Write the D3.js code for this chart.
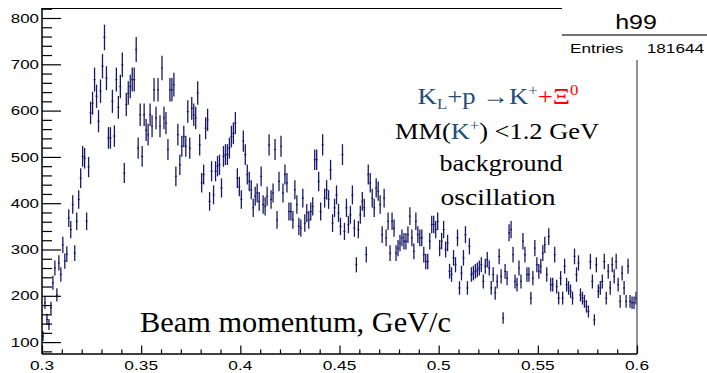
<!DOCTYPE html>
<html>
<head>
<meta charset="utf-8">
<script src="https://cdn.jsdelivr.net/npm/d3@7/dist/d3.min.js"></script>
<style>
  body { margin: 0; background: #fff; }
  svg { display: block; }
</style>
</head>
<body>
<svg id="chart" width="707" height="373"></svg>
<script>
// Histogram h99: beam momentum, 300 bins from 0.3 to 0.6 GeV/c
const histName = "h99";
const entries = "181644";
const binLow = 0.3;
const binHigh = 0.6;
const binWidth = 0.001;

const counts = [
  113,185,149,138,174,228,260,202,271,246,310,275,290,368,343,397,292,361,408,454,
  501,497,361,478,595,616,667,631,577,642,696,758,670,541,541,620,545,667,607,652,
  699,465,613,638,652,667,667,732,519,
  591,501,591,558,548,591,566,645,584,645,566,692,584,573,516,645,645,656,458,548,
  483,523,544,523,598,519,605,591,584,638,526,444,462,562,580,404,469,418,469,480,
  483,433,501,505,505,519,544,551,573,
  454,436,408,534,505,462,447,429,390,415,422,404,458,397,393,415,526,408,422,516,
  364,447,523,422,462,444,382,382,364,429,397,350,346,411,357,379,364,382,393,494,
  494,447,382,526,411,429,408,472,357,390,
  418,379,350,505,339,390,354,375,418,346,267,343,375,404,390,289,462,444,411,390,
  433,426,397,332,411,325,361,292,361,346,292,303,314,325,318,318,332,372,325,296,
  361,332,325,325,289,274,274,318,354,
  354,343,361,303,318,343,300,314,253,246,282,267,325,217,249,282,332,217,307,246,
  249,253,256,260,267,231,264,278,260,217,246,206,231,285,242,152,253,238,336,343,
  289,231,224,260,231,318,289,246,246,195,
  238,303,267,253,264,292,310,246,328,224,224,289,220,195,238,195,264,224,217,210,
  195,285,246,271,202,195,188,177,166,274,231,148,267,210,217,231,274,195,253,217,
  267,242,274,224,188,249,217,188,264,188,185,185,195
];

const xTickValues = [0.3, 0.35, 0.4, 0.45, 0.5, 0.55, 0.6];
const xTickLabels = ["0.3", "0.35", "0.4", "0.45", "0.5", "0.55", "0.6"];
const yTickValues = [100, 200, 300, 400, 500, 600, 700, 800];
const yTickLabels = ["100", "200", "300", "400", "500", "600", "700", "800"];
const yRange = [74.3, 821.6];

const xTitle = "Beam momentum, GeV/c";
const noteLines = ["MM(K\u207A) <1.2 GeV", "background", "oscillation"];

const svg = d3.select("#chart");
const frame = { left: 42, right: 637, top: 8, bottom: 354 };

const x = d3.scaleLinear().domain([binLow, binHigh]).range([frame.left, frame.right]);
const y = d3.scaleLinear().domain(yRange).range([frame.bottom, frame.top]);

const bins = counts.map((c, i) => ({
  lo: binLow + i * binWidth,
  hi: binLow + (i + 1) * binWidth,
  c: c,
  err: Math.sqrt(c)
}));

// Error bars: vertical sqrt(N) bar plus horizontal bin-width bar
const markColor = "#18186a";
const gData = svg.append("g");
gData.selectAll("line.v").data(bins).join("line")
  .attr("x1", d => x((d.lo + d.hi) / 2)).attr("x2", d => x((d.lo + d.hi) / 2))
  .attr("y1", d => y(Math.max(d.c - d.err, yRange[0])))
  .attr("y2", d => y(Math.min(d.c + d.err, yRange[1])))
  .attr("stroke", markColor).attr("stroke-width", 1.3);
gData.selectAll("line.h").data(bins).join("line")
  .attr("x1", d => x(d.lo)).attr("x2", d => x(d.hi))
  .attr("y1", d => y(d.c)).attr("y2", d => y(d.c))
  .attr("stroke", markColor).attr("stroke-width", 1.2);

// Frame lines
svg.append("line").attr("x1", frame.left).attr("x2", 562).attr("y1", frame.top + 0.5).attr("y2", frame.top + 0.5)
  .attr("stroke", "#000").attr("stroke-width", 1.2);
svg.append("line").attr("x1", frame.right).attr("x2", frame.right).attr("y1", 60).attr("y2", frame.bottom)
  .attr("stroke", "#555").attr("stroke-width", 1.3);

// Axes with ROOT-style inward ticks
const yAxis = d3.axisRight(y).tickValues(yTickValues).tickSize(19).tickFormat("");
const yMinor = d3.axisRight(y).tickValues(d3.range(80, 821, 20).filter(v => v % 100 !== 0)).tickSize(10).tickFormat("");
const gy = svg.append("g").attr("transform", `translate(${frame.left},0)`).call(yAxis);
const gyMinor = svg.append("g").attr("transform", `translate(${frame.left},0)`).call(yMinor);
[gy, gyMinor].forEach(g => {
  g.select(".domain").remove();
  g.selectAll("line").attr("stroke", "#000").attr("stroke-width", 1.2);
});
svg.append("line").attr("x1", frame.left).attr("x2", frame.left).attr("y1", frame.top).attr("y2", frame.bottom)
  .attr("stroke", "#000").attr("stroke-width", 1.5);

const xAxis = d3.axisTop(x).tickValues(xTickValues).tickSize(8.5).tickFormat("");
const xMinor = d3.axisTop(x).tickValues(d3.range(1, 30).filter(k => k % 5 !== 0).map(k => binLow + k * 0.01)).tickSize(4.5).tickFormat("");
const gx = svg.append("g").attr("transform", `translate(0,${frame.bottom})`).call(xAxis);
const gxMinor = svg.append("g").attr("transform", `translate(0,${frame.bottom})`).call(xMinor);
[gx, gxMinor].forEach(g => {
  g.select(".domain").remove();
  g.selectAll("line").attr("stroke", "#000").attr("stroke-width", 1.2);
});
svg.append("line").attr("x1", frame.left).attr("x2", frame.right).attr("y1", frame.bottom).attr("y2", frame.bottom)
  .attr("stroke", "#000").attr("stroke-width", 1.5);

// Stretched sans labels
function sansText(tx, ty, str, size, anchor, sx) {
  return svg.append("text")
    .attr("transform", `translate(${tx},${ty}) scale(${sx},1)`)
    .attr("text-anchor", anchor)
    .attr("font-family", "'Liberation Sans', Arial, sans-serif")
    .attr("font-size", size)
    .attr("fill", "#000")
    .text(str);
}
yTickValues.forEach((v, i) => sansText(39, y(v) + 4.6, yTickLabels[i], 13, "end", 1.3));
xTickValues.forEach((v, i) => sansText(x(v), 370, xTickLabels[i], 13.5, "middle", 1.28));

// Stats box
svg.append("rect").attr("x", 562).attr("y", 0).attr("width", 145).attr("height", 58).attr("fill", "#fff");
svg.append("line").attr("x1", 562).attr("x2", 707).attr("y1", 35).attr("y2", 35)
  .attr("stroke", "#444").attr("stroke-width", 1.3);
sansText(636, 29, histName, 20, "middle", 1.25);
sansText(570, 53, "Entries", 13.5, "start", 1.27);
sansText(704, 53, entries, 13.5, "end", 1.27);

// Serif annotations, each fitted to its width
function fitLine(textSel, cx, targetW) {
  const w = textSel.node().getBBox().width;
  textSel.attr("transform", `translate(${cx},${+textSel.attr("data-y")}) scale(${targetW / w},1)`);
}
const serif = "'Liberation Serif', 'Times New Roman', serif";
const blue = "#1f4e79";

const reaction = svg.append("text").attr("data-y", 104).attr("text-anchor", "middle")
  .attr("font-family", serif).attr("font-size", 24).attr("fill", blue);
reaction.append("tspan").text("K");
reaction.append("tspan").attr("font-size", 15).attr("dy", 5).text("L");
reaction.append("tspan").attr("dy", -5).text("+p \u2192K");
reaction.append("tspan").attr("font-size", 15).attr("dy", -9).text("+");
reaction.append("tspan").attr("dy", 9).attr("fill", "#ff0000").text("+\u039E");
reaction.append("tspan").attr("font-size", 15).attr("dy", -9).attr("fill", "#ff0000").text("0");
fitLine(reaction, 498, 161);

const mm = svg.append("text").attr("data-y", 139).attr("text-anchor", "middle")
  .attr("font-family", serif).attr("font-size", 24).attr("fill", "#000");
mm.append("tspan").text("MM(");
mm.append("tspan").attr("fill", blue).text("K");
mm.append("tspan").attr("fill", blue).attr("font-size", 15).attr("dy", -9).text("+");
mm.append("tspan").attr("dy", 9).text(") <1.2 GeV");
fitLine(mm, 497, 205);

const bg = svg.append("text").attr("data-y", 171).attr("text-anchor", "middle")
  .attr("font-family", serif).attr("font-size", 24).attr("fill", "#000").text(noteLines[1]);
fitLine(bg, 501, 123);
const osc = svg.append("text").attr("data-y", 205).attr("text-anchor", "middle")
  .attr("font-family", serif).attr("font-size", 24).attr("fill", "#000").text(noteLines[2]);
fitLine(osc, 498, 115);

const title = svg.append("text").attr("data-y", 332).attr("text-anchor", "middle")
  .attr("font-family", serif).attr("font-size", 30).attr("fill", "#000").text(xTitle);
fitLine(title, 295.5, 311);
</script>
</body>
</html>
